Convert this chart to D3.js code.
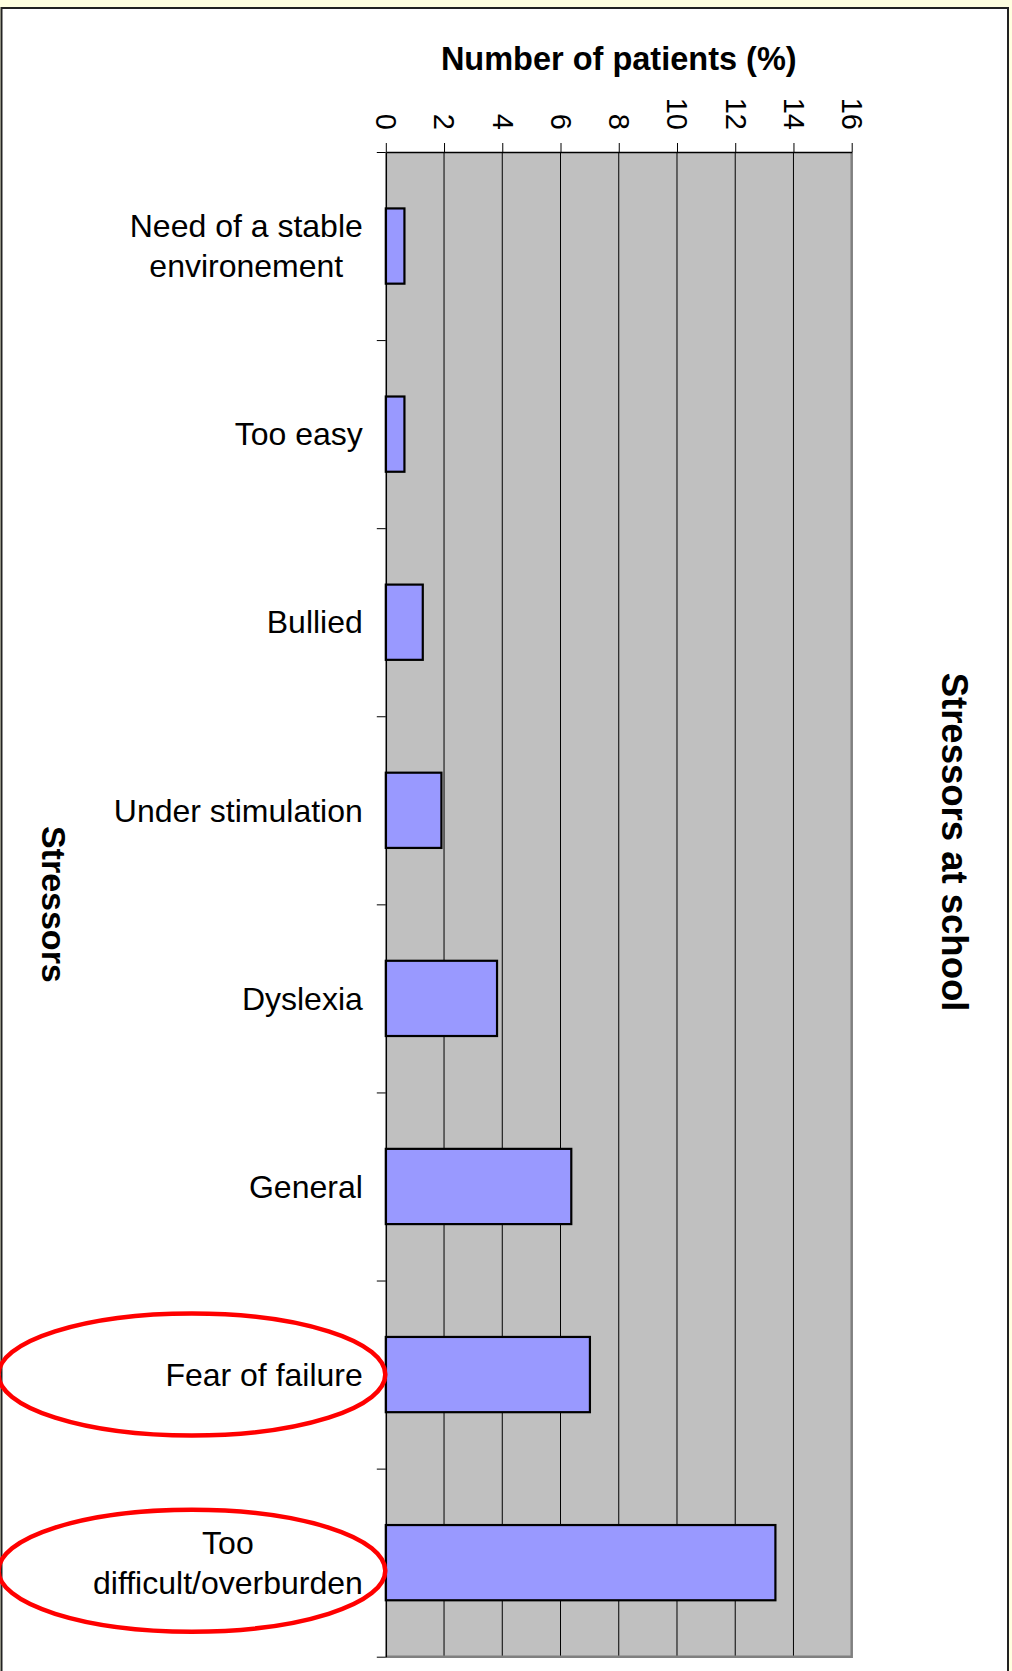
<!DOCTYPE html>
<html>
<head>
<meta charset="utf-8">
<script src="https://cdn.jsdelivr.net/npm/d3@7"></script>
<style>
  body { margin: 0; background: #FFFFE0; }
  text { font-family: "Liberation Sans", Arial, sans-serif; fill: #000; }
</style>
</head>
<body>
<script>
// categories (each one split in the lines shown on the chart)
const categories = ["Need of a stable environement", "Too easy", "Bullied", "Under stimulation",
  "Dyslexia", "General", "Fear of failure", "Too difficult/overburden"];
const labelLines = [["Need of a stable", "environement"], ["Too easy"], ["Bullied"], ["Under stimulation"],
  ["Dyslexia"], ["General"], ["Fear of failure"], ["Too", "difficult/overburden"]];
const values = [0.64, 0.64, 1.27, 1.91, 3.82, 6.37, 7.01, 13.38];
const xTicks = [0, 2, 4, 6, 8, 10, 12, 14, 16];
const circled = ["Fear of failure", "Too difficult/overburden"];

const W = 1012, H = 1671;
const plotL = 385.8, plotR = 851.7, plotT = 152, plotB = 1656.7;

const svg = d3.select('body').append('svg').attr('width', W).attr('height', H)
  .style('display', 'block');

// chart frame
svg.append('rect').attr('x', 1.5).attr('y', 8).attr('width', 1006.5).attr('height', 1690)
  .style('fill', '#fff').style('stroke', '#222').style('stroke-width', 2);

const x = d3.scaleLinear().domain([0, 16]).range([plotL, plotR]);
const y = d3.scaleBand().domain(categories).range([plotT, plotB]).paddingInner(0.6).paddingOuter(0.3);
const yEdge = d3.scaleLinear().domain([0, categories.length]).range([plotT, plotB]);

// plot area
svg.append('rect').attr('x', plotL).attr('y', plotT).attr('width', plotR - plotL).attr('height', plotB - plotT)
  .style('fill', '#C0C0C0');

// gridlines
svg.append('g').selectAll('line').data(xTicks.slice(1, -1)).join('line')
  .attr('x1', d => x(d)).attr('x2', d => x(d)).attr('y1', plotT).attr('y2', plotB)
  .style('stroke', '#000').style('stroke-width', 1);

// plot border (right + bottom gray)
svg.append('path')
  .attr('d', `M${plotR},${plotT}V${plotB}H${plotL}`)
  .style('fill', 'none').style('stroke', '#808080').style('stroke-width', 2.5);

// bars
svg.append('g').selectAll('rect').data(values).join('rect')
  .attr('x', x(0))
  .attr('y', (d, i) => y(categories[i]))
  .attr('width', d => x(d) - x(0))
  .attr('height', y.bandwidth())
  .style('fill', '#9999FF').style('stroke', '#000').style('stroke-width', 2.2);

// top value axis
const xAxis = svg.append('g').attr('transform', `translate(0,${plotT})`)
  .call(d3.axisTop(x).tickValues(xTicks).tickSize(9).tickSizeOuter(0));
xAxis.select('.domain').style('stroke', '#000').style('stroke-width', 1.5);
xAxis.selectAll('.tick line').style('stroke', '#000');
xAxis.selectAll('.tick text')
  .attr('transform', 'rotate(90)')
  .attr('x', -22).attr('y', 0).attr('dy', '0.35em')
  .style('text-anchor', 'end').style('font-size', '29px')
  .style('font-family', '"Liberation Sans", Arial, sans-serif');

// left category axis, ticks between categories
const yAxis = svg.append('g').attr('transform', `translate(${plotL},0)`)
  .call(d3.axisLeft(yEdge).ticks(categories.length).tickSize(9).tickSizeOuter(0).tickFormat(''));
yAxis.select('.domain').style('stroke', '#000').style('stroke-width', 1.5);
yAxis.selectAll('.tick line').style('stroke', '#000');

// category labels: lines centered on each other, block right-aligned
const labelRight = plotL - 23;
const lab = svg.append('g').selectAll('text').data(labelLines).join('text')
  .style('font-size', '32px')
  .attr('y', (d, i) => y(categories[i]) + y.bandwidth() / 2);
lab.each(function (lines) {
  const t = d3.select(this);
  const n = lines.length;
  lines.forEach((s, k) => {
    t.append('tspan').text(s)
      .attr('dy', k === 0 ? `${0.35 - (n - 1) * 0.63}em` : '1.26em');
  });
  let w = 0;
  t.selectAll('tspan').each(function () { w = Math.max(w, this.getComputedTextLength()); });
  t.style('text-anchor', 'middle');
  t.selectAll('tspan').attr('x', labelRight - w / 2);
});

// red ellipses round the highlighted categories
const ellipseShift = { "Fear of failure": 0, "Too difficult/overburden": 8 };
svg.append('g').selectAll('ellipse').data(circled).join('ellipse')
  .attr('cx', plotL / 2 - 1)
  .attr('cy', d => y(d) + y.bandwidth() / 2 + ellipseShift[d])
  .attr('rx', plotL / 2 + 0.5)
  .attr('ry', 61)
  .style('fill', 'none').style('stroke', '#FF0000').style('stroke-width', 4.5);

// titles
svg.append('text').attr('x', (plotL + plotR) / 2).attr('y', 70)
  .style('text-anchor', 'middle').style('font-size', '32.5px').style('font-weight', 'bold')
  .text('Number of patients (%)');

svg.append('text').attr('transform', `translate(942,842) rotate(90)`)
  .style('text-anchor', 'middle').style('font-size', '36.5px').style('font-weight', 'bold')
  .text('Stressors at school');

svg.append('text').attr('transform', `translate(42,${(plotT + plotB) / 2}) rotate(90)`)
  .style('text-anchor', 'middle').style('font-size', '34px').style('font-weight', 'bold')
  .text('Stressors');
</script>
</body>
</html>
